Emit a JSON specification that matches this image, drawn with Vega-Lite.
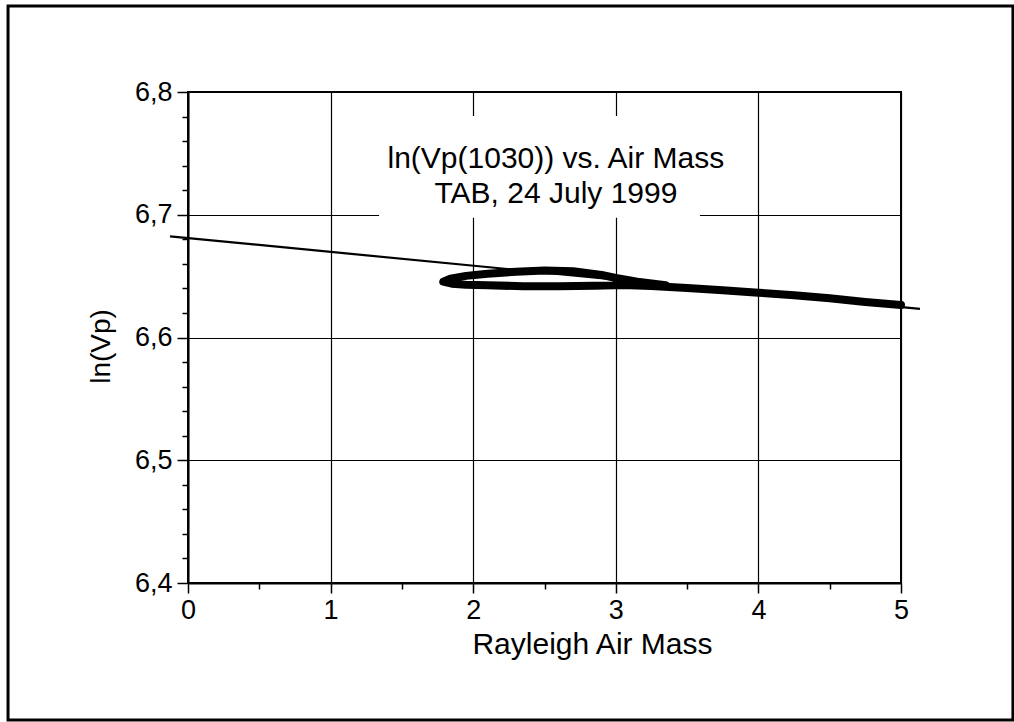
{
  "$schema": "https://vega.github.io/schema/vega-lite/v6.json",
  "width": 713,
  "height": 491,
  "autosize": {"type": "none"},
  "padding": {"left": 188, "top": 92, "right": 113, "bottom": 139},
  "background": "white",
  "config": {
    "view": {"stroke": "black", "strokeWidth": 2},
    "font": "Liberation Sans",
    "axis": {"gridColor": "black", "gridOpacity": 1, "gridWidth": 1.2, "tickColor": "black", "domainColor": "black", "labelColor": "black", "titleColor": "black", "labelFont": "Liberation Sans", "titleFont": "Liberation Sans", "titleFontWeight": "normal", "labelFlush": false, "labelOverlap": false}
  },
  "datasets": {
    "frame": [{"x1": -1.262, "x2": 5.785, "y1": 6.2884, "y2": 6.8701}],
    "box": [{"x1": 1.34, "x2": 3.59, "y1": 6.6975, "y2": 6.7805}],
    "fit": [{"x": -0.126, "y": 6.6824}, {"x": 5.133, "y": 6.6233}],
    "obs": [
      {"i": 1, "x": 5.0, "y": 6.6265},
      {"i": 2, "x": 4.75, "y": 6.629},
      {"i": 3, "x": 4.5, "y": 6.632},
      {"i": 4, "x": 4.25, "y": 6.6345},
      {"i": 5, "x": 4.0, "y": 6.6365},
      {"i": 6, "x": 3.75, "y": 6.6385},
      {"i": 7, "x": 3.5, "y": 6.6403},
      {"i": 8, "x": 3.25, "y": 6.642},
      {"i": 9, "x": 3.05, "y": 6.6428},
      {"i": 10, "x": 2.85, "y": 6.6422},
      {"i": 11, "x": 2.6, "y": 6.6418},
      {"i": 12, "x": 2.35, "y": 6.6418},
      {"i": 13, "x": 2.1, "y": 6.6425},
      {"i": 14, "x": 1.95, "y": 6.643},
      {"i": 15, "x": 1.85, "y": 6.6438},
      {"i": 16, "x": 1.79, "y": 6.6455},
      {"i": 17, "x": 1.84, "y": 6.648},
      {"i": 18, "x": 1.95, "y": 6.6502},
      {"i": 19, "x": 2.1, "y": 6.652},
      {"i": 20, "x": 2.3, "y": 6.6535},
      {"i": 21, "x": 2.5, "y": 6.6545},
      {"i": 22, "x": 2.7, "y": 6.654},
      {"i": 23, "x": 2.9, "y": 6.651},
      {"i": 24, "x": 3.0, "y": 6.6485},
      {"i": 25, "x": 3.15, "y": 6.6455},
      {"i": 26, "x": 3.35, "y": 6.6425}
    ],
    "titles": [
      {"x": 2.58, "y": 6.7381, "text": "ln(Vp(1030)) vs. Air Mass"},
      {"x": 2.58, "y": 6.7096, "text": "TAB, 24 July 1999"}
    ]
  },
  "layer": [
    {
      "data": {"name": "frame"},
      "mark": {"type": "rect", "fill": null, "stroke": "black", "strokeWidth": 3, "clip": false},
      "encoding": {
        "x": {"field": "x1", "type": "quantitative", "scale": {"domain": [0, 5], "nice": false, "zero": false},
          "axis": {"orient": "bottom", "values": [0, 1, 2, 3, 4, 5], "format": "d", "grid": true, "tickSize": 10, "tickWidth": 1.5, "domainWidth": 2, "labelFontSize": 27, "labelPadding": 4, "title": "Rayleigh Air Mass", "titleFontSize": 30, "titleY": 70, "titleX": 404, "titleBaseline": "alphabetic", "titleAlign": "center"}},
        "x2": {"field": "x2"},
        "y": {"field": "y1", "type": "quantitative", "scale": {"domain": [6.4, 6.8], "nice": false, "zero": false},
          "axis": {"orient": "left", "values": [6.4, 6.5, 6.6, 6.7, 6.8], "labelExpr": "replace(format(datum.value, '.1f'), '.', ',')", "grid": true, "tickSize": 11, "tickWidth": 1.5, "domainWidth": 2, "labelFontSize": 27, "labelPadding": 5, "title": "ln(Vp)", "titleFontSize": 28, "titleAngle": -90, "titleX": -79, "titleY": 254, "titleAlign": "center", "titleBaseline": "alphabetic"}},
        "y2": {"field": "y2"}
      }
    },
    {
      "data": {"name": "box"},
      "mark": {"type": "rect", "fill": "white", "stroke": null},
      "encoding": {
        "x": {"field": "x1", "type": "quantitative", "scale": {"domain": [0, 5], "nice": false, "zero": false}, "axis": null},
        "x2": {"field": "x2"},
        "y": {"field": "y1", "type": "quantitative", "scale": {"domain": [6.4, 6.8], "nice": false, "zero": false}, "axis": null},
        "y2": {"field": "y2"}
      }
    },
    {
      "data": {"name": "fit"},
      "mark": {"type": "line", "color": "black", "strokeWidth": 2.2, "clip": false},
      "encoding": {
        "x": {"field": "x", "type": "quantitative", "scale": {"domain": [0, 5], "nice": false, "zero": false},
          "axis": {"orient": "bottom", "values": [0.5, 1.5, 2.5, 3.5, 4.5], "labels": false, "domain": false, "grid": false, "tickSize": 6, "tickWidth": 1.5, "title": null}},
        "y": {"field": "y", "type": "quantitative", "scale": {"domain": [6.4, 6.8], "nice": false, "zero": false},
          "axis": {"orient": "left", "values": [6.42, 6.44, 6.46, 6.48, 6.52, 6.54, 6.56, 6.58, 6.62, 6.64, 6.66, 6.68, 6.72, 6.74, 6.76, 6.78], "labels": false, "domain": false, "grid": false, "tickSize": 6, "tickWidth": 1.5, "title": null}}
      }
    },
    {
      "data": {"name": "obs"},
      "mark": {"type": "line", "color": "black", "strokeWidth": 8, "strokeJoin": "round", "strokeCap": "round"},
      "encoding": {
        "x": {"field": "x", "type": "quantitative", "scale": {"domain": [0, 5], "nice": false, "zero": false}, "axis": null},
        "y": {"field": "y", "type": "quantitative", "scale": {"domain": [6.4, 6.8], "nice": false, "zero": false}, "axis": null},
        "order": {"field": "i", "type": "quantitative"}
      }
    },
    {
      "data": {"name": "titles"},
      "mark": {"type": "text", "font": "Liberation Sans", "fontSize": 30, "color": "black", "align": "center", "baseline": "alphabetic"},
      "encoding": {
        "x": {"field": "x", "type": "quantitative", "scale": {"domain": [0, 5], "nice": false, "zero": false}, "axis": null},
        "y": {"field": "y", "type": "quantitative", "scale": {"domain": [6.4, 6.8], "nice": false, "zero": false}, "axis": null},
        "text": {"field": "text"}
      }
    }
  ],
  "resolve": {"axis": {"x": "independent", "y": "independent"}}
}
